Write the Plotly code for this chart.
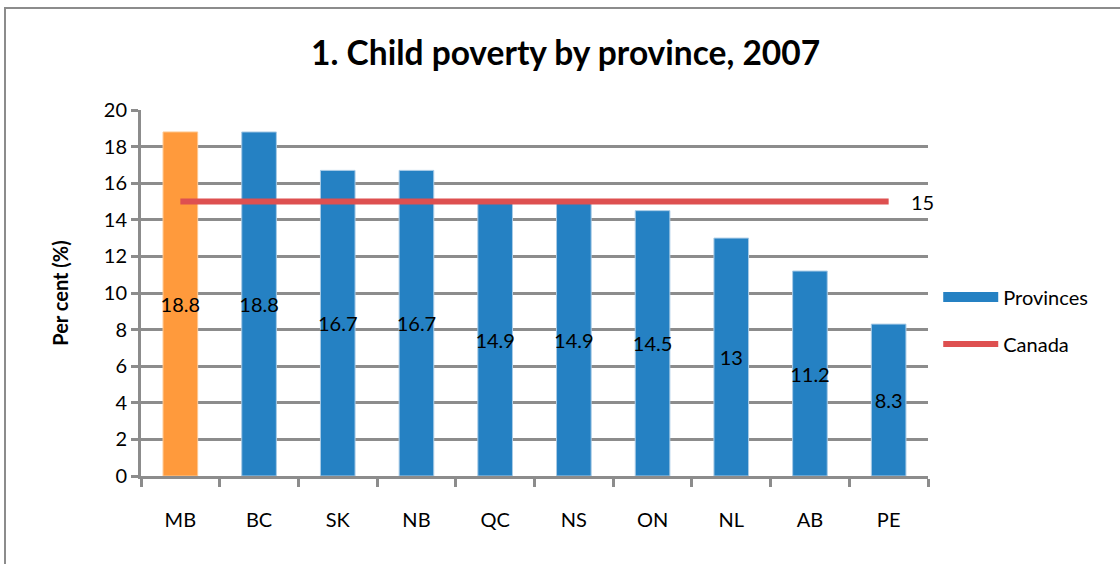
import plotly.graph_objects as go

provinces = ["MB", "BC", "SK", "NB", "QC", "NS", "ON", "NL", "AB", "PE"]
poverty = [18.8, 18.8, 16.7, 16.7, 14.9, 14.9, 14.5, 13, 11.2, 8.3]
canada = [15] * len(provinces)
highlight = "MB"

FONT = "Lato"
GRID = "#8C8C8C"
BLUE = "#2581C3"
ORANGE = "#FF9A3C"
RED = "#DE5050"

hi_x = [p for p in provinces if p == highlight]
hi_y = [v for p, v in zip(provinces, poverty) if p == highlight]
rest_x = [p for p in provinces if p != highlight]
rest_y = [v for p, v in zip(provinces, poverty) if p != highlight]

bar_common = dict(textposition="inside", insidetextanchor="middle", textangle=0,
                  textfont=dict(family=FONT, size=20, color="black"), width=0.44,
                  showlegend=False)

fig = go.Figure()
fig.add_trace(go.Bar(
    x=rest_x, y=rest_y, name="Provinces",
    marker=dict(color=BLUE, line=dict(color="#A9CBE6", width=1)),
    text=[str(v) for v in rest_y], **bar_common,
))
fig.add_trace(go.Bar(
    x=hi_x, y=hi_y, name="Manitoba",
    marker=dict(color=ORANGE, line=dict(color="#FFC890", width=1)),
    text=[str(v) for v in hi_y], **bar_common,
))
fig.add_trace(go.Scatter(
    x=provinces, y=canada, name="Canada", mode="lines",
    line=dict(color=RED, width=6), showlegend=False,
))
# legend entries (Excel-style wide swatches)
fig.add_trace(go.Scatter(x=[None], y=[None], mode="lines", name="Provinces",
                         line=dict(color=BLUE, width=14), legendgroup="a"))
fig.add_trace(go.Scatter(x=[None], y=[None], mode="lines", name="Canada",
                         line=dict(color=RED, width=6), legendgroup="b"))
fig.add_annotation(x=provinces[-1], y=canada[-1], text=str(canada[-1]),
                   showarrow=False, xanchor="left", xshift=20, yshift=0,
                   font=dict(family=FONT, size=20, color="black"))

fig.update_layout(
    width=1120, height=564,
    margin=dict(l=141, r=192, t=110, b=88),
    paper_bgcolor="white", plot_bgcolor="white",
    font=dict(family=FONT, size=20, color="black"),
    barmode="overlay",
    uniformtext=dict(minsize=20, mode="show"),
    title=dict(text="<b>1. Child poverty by province, 2007</b>",
               x=0.505, xanchor="center", y=0.905, yanchor="middle",
               font=dict(family=FONT, size=33.5, color="black")),
    showlegend=True,
    legend=dict(x=1.013, xanchor="left", y=0.425, yanchor="middle",
                font=dict(family=FONT, size=20), bgcolor="rgba(0,0,0,0)",
                tracegroupgap=18, itemwidth=55),
    shapes=[dict(type="rect", xref="paper", yref="paper",
                 x0=-0.1728, x1=1.3, y0=-0.3, y1=1.2787,
                 line=dict(color=GRID, width=2), fillcolor="rgba(0,0,0,0)",
                 layer="below")],
)
fig.update_yaxes(
    range=[0, 20], dtick=2, showgrid=True, gridcolor=GRID, gridwidth=3,
    showline=True, linecolor=GRID, linewidth=3, ticks="outside",
    ticklen=7, tickwidth=3, tickcolor=GRID, zeroline=False,
    tickfont=dict(family=FONT, size=20),
    title=dict(text="<b>Per cent (%)</b>", font=dict(family=FONT, size=20), standoff=30),
)
fig.update_xaxes(
    categoryorder="array", categoryarray=provinces,
    showline=True, linecolor=GRID, linewidth=3, ticks="outside",
    tickson="boundaries", ticklen=8, tickwidth=3, tickcolor=GRID,
    tickfont=dict(family=FONT, size=20), ticklabelstandoff=24,
    range=[-0.5, 9.5],
)
fig.write_html("out.html")
